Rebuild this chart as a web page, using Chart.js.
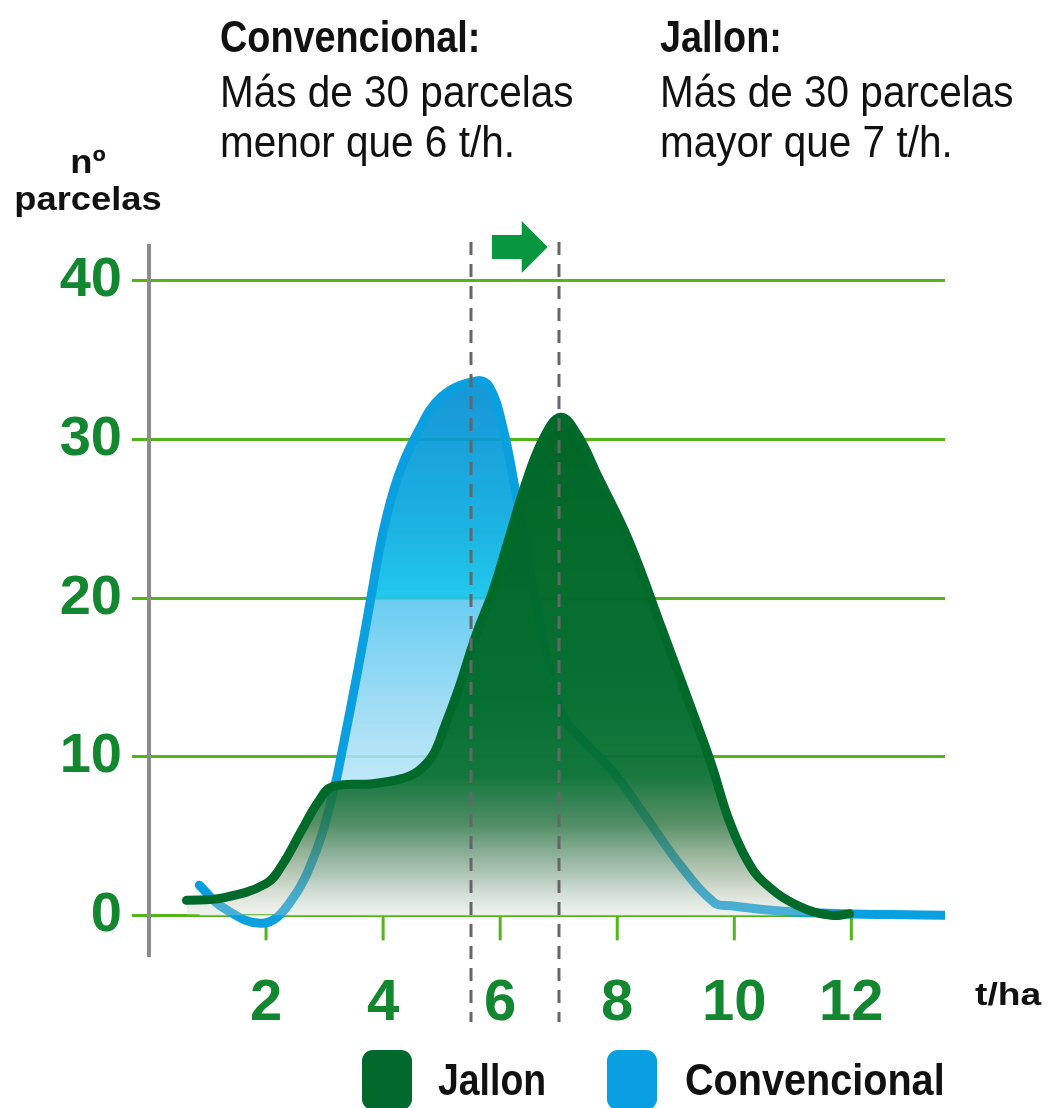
<!DOCTYPE html>
<html>
<head>
<meta charset="utf-8">
<script src="https://cdn.jsdelivr.net/npm/chart.js@4.4.1/dist/chart.umd.min.js"></script>
<style>
  html, body { margin: 0; padding: 0; background: #fff; }
  #wrap { position: relative; width: 1051px; height: 1108px; overflow: hidden; font-family: 'Liberation Sans', Arial, sans-serif; }
  #chart { position: absolute; left: 0; top: 0; }
  .t { position: absolute; white-space: nowrap; color: #111; transform-origin: left center; }
  .hd { font-size: 45px; line-height: 45px; transform: scaleX(0.9); }
  .hd.b { transform: scaleX(0.84); }
  .b { font-weight: bold; }
  .box { position: absolute; width: 50px; height: 60px; border-radius: 11px; }
</style>
</head>
<body>
<div id="wrap">
  <canvas id="chart" width="1051" height="1108"></canvas>

  <div class="t hd b" style="left:220px; top:14px;">Convencional:</div>
  <div class="t hd" style="left:220px; top:69px;">Más de 30 parcelas</div>
  <div class="t hd" style="left:220px; top:119px;">menor que 6 t/h.</div>

  <div class="t hd b" style="left:660px; top:14px;">Jallon:</div>
  <div class="t hd" style="left:660px; top:69px;">Más de 30 parcelas</div>
  <div class="t hd" style="left:660px; top:119px;">mayor que 7 t/h.</div>

  <div class="t b" style="left:0; width:176px; text-align:center; top:145px; font-size:33px; line-height:33px; transform:scaleX(1.1); transform-origin:center;">nº</div>
  <div class="t b" style="left:0; width:176px; text-align:center; top:182px; font-size:33px; line-height:33px; transform:scaleX(1.1); transform-origin:center;">parcelas</div>

  <div class="t b" style="left:975px; top:979px; font-size:31px; line-height:31px; transform:scaleX(1.2);">t/ha</div>

  <div class="box" style="left:362px; top:1050px; background:#00692b;"></div>
  <div class="t b" style="left:438px; top:1058px; font-size:44px; line-height:44px; transform:scaleX(0.85);">Jallon</div>
  <div class="box" style="left:607px; top:1050px; background:#0a9fe0;"></div>
  <div class="t b" style="left:685px; top:1058px; font-size:44px; line-height:44px; transform:scaleX(0.9);">Convencional</div>
</div>

<script>
  /* Data */
  var jallonX = [0.64, 1.26, 2.0, 2.28, 2.6, 2.9, 3.13, 3.82, 4.3, 4.6, 4.85, 5.05, 5.3, 5.58, 5.88, 6.16, 6.45, 6.73, 7.03, 7.32, 7.68, 8.2, 8.77, 9.33, 9.62, 9.9, 10.2, 10.5, 11.09, 11.66, 11.97];
  var jallonY = [0.95, 1.1, 2.0, 3.2, 5.3, 7.2, 8.1, 8.3, 8.6, 9.1, 10.1, 11.9, 14.4, 17.6, 20.5, 23.9, 27.4, 30.0, 31.4, 30.3, 27.6, 23.6, 18.0, 12.4, 9.4, 6.1, 3.6, 2.1, 0.6, 0.0, 0.1];

  var convX = [0.86, 1.26, 1.94, 2.4, 2.86, 3.17, 3.28, 3.57, 3.79, 4.0, 4.25, 4.57, 5.0, 5.6, 5.82, 6.05, 6.27, 6.6, 6.85, 7.03, 7.37, 7.94, 8.51, 9.09, 9.66, 9.94, 11.09, 13.6];
  var convY = [1.9, 0.5, -0.5, 0.76, 4.1, 8.1, 10.0, 15.5, 20.0, 24.2, 27.6, 30.3, 32.7, 33.7, 33.3, 30.7, 26.6, 20.0, 15.5, 12.8, 11.2, 9.0, 6.1, 3.1, 0.8, 0.6, 0.2, 0.0];

  var xTicks = [2, 4, 6, 8, 10, 12];
  var yTicks = [0, 10, 20, 30, 40];
  var limitLines = [5.5, 7];

  var GRID = '#52b51a';
  var LABEL = '#12872f';

  function points(xs, ys) {
    return xs.map(function (x, i) { return { x: x, y: ys[i] }; });
  }

  function jallonFill(context) {
    var chart = context.chart;
    if (!chart.chartArea) return 'rgba(0,104,40,0.9)';
    var y = chart.scales.y;
    var g = chart.ctx.createLinearGradient(0, y.getPixelForValue(31.5), 0, y.getPixelForValue(0));
    g.addColorStop(0, 'rgba(0,102,38,1)');
    g.addColorStop(0.55, 'rgba(0,108,44,0.97)');
    g.addColorStop(0.72, 'rgba(6,110,46,0.93)');
    g.addColorStop(0.82, 'rgba(50,118,66,0.8)');
    g.addColorStop(0.92, 'rgba(120,150,115,0.5)');
    g.addColorStop(1, 'rgba(210,215,205,0.3)');
    return g;
  }

  function convFill(context) {
    var chart = context.chart;
    if (!chart.chartArea) return 'rgba(10,160,224,0.8)';
    var y = chart.scales.y;
    var g = chart.ctx.createLinearGradient(0, y.getPixelForValue(34), 0, y.getPixelForValue(0));
    g.addColorStop(0, 'rgba(10,143,212,0.95)');
    g.addColorStop(0.28, 'rgba(9,172,223,0.92)');
    g.addColorStop(0.41, 'rgba(10,194,234,0.9)');
    g.addColorStop(0.415, 'rgba(85,198,239,0.88)');
    g.addColorStop(0.6, 'rgba(143,215,243,0.88)');
    g.addColorStop(0.8, 'rgba(197,233,248,0.9)');
    g.addColorStop(1, 'rgba(255,255,255,0.9)');
    return g;
  }

  /* Extra drawing: tick marks, limit lines, arrow */
  var decor = {
    id: 'decor',
    beforeDatasetsDraw: function (chart) {
      var ctx = chart.ctx, xs = chart.scales.x, ys = chart.scales.y;
      var y0 = ys.getPixelForValue(0);
      ctx.save();
      ctx.strokeStyle = GRID;
      ctx.lineWidth = 3;
      xTicks.forEach(function (v) {
        var px = xs.getPixelForValue(v);
        ctx.beginPath();
        ctx.moveTo(px, y0);
        ctx.lineTo(px, y0 + 25);
        ctx.stroke();
      });
      ctx.restore();
    },
    afterDatasetsDraw: function (chart) {
      var ctx = chart.ctx, xs = chart.scales.x;
      ctx.save();
      ctx.strokeStyle = '#666';
      ctx.lineWidth = 3;
      ctx.setLineDash([13, 9]);
      limitLines.forEach(function (v) {
        var px = Math.round(xs.getPixelForValue(v));
        ctx.beginPath();
        ctx.moveTo(px, 242);
        ctx.lineTo(px, 1022);
        ctx.stroke();
      });
      ctx.setLineDash([]);

      // arrow between the two limits
      var a = xs.getPixelForValue(limitLines[0]), b = xs.getPixelForValue(limitLines[1]);
      var x1 = a + 21, x2 = b - 11, xm = x2 - 26, cy = 247;
      ctx.fillStyle = '#08963f';
      ctx.beginPath();
      ctx.moveTo(x1, cy - 12);
      ctx.lineTo(xm, cy - 12);
      ctx.lineTo(xm, cy - 26);
      ctx.lineTo(x2, cy);
      ctx.lineTo(xm, cy + 26);
      ctx.lineTo(xm, cy + 12);
      ctx.lineTo(x1, cy + 12);
      ctx.closePath();
      ctx.fill();
      ctx.restore();
    }
  };

  new Chart(document.getElementById('chart').getContext('2d'), {
    type: 'line',
    data: {
      datasets: [{
        label: 'Jallon',
        data: points(jallonX, jallonY),
        borderColor: '#006a2a',
        borderWidth: 9,
        borderCapStyle: 'round',
        backgroundColor: jallonFill,
        fill: 'origin',
        tension: 0.4,
        pointRadius: 0,
        order: 0
      }, {
        label: 'Convencional',
        data: points(convX, convY),
        borderColor: '#0aa0e0',
        borderWidth: 9,
        borderCapStyle: 'round',
        backgroundColor: convFill,
        fill: 'origin',
        tension: 0.4,
        pointRadius: 0,
        order: 1
      }]
    },
    options: {
      responsive: false,
      animation: false,
      layout: { padding: { top: 246, right: 106, left: 0, bottom: 0 } },
      plugins: {
        legend: { display: false },
        tooltip: { enabled: false }
      },
      scales: {
        x: {
          type: 'linear',
          min: 0,
          max: 13.6,
          afterBuildTicks: function (s) { s.ticks = xTicks.map(function (v) { return { value: v }; }); },
          afterFit: function (s) { s.height = 153; },
          grid: { display: false },
          border: { display: false },
          ticks: {
            color: LABEL,
            padding: 6,
            maxRotation: 0,
            font: { family: "'Liberation Sans', Arial, sans-serif", size: 58, weight: 'bold' }
          }
        },
        y: {
          min: -2.5,
          max: 42.2,
          afterBuildTicks: function (s) { s.ticks = yTicks.map(function (v) { return { value: v }; }); },
          afterFit: function (s) { s.width = 149; },
          grid: { color: GRID, lineWidth: 3, tickLength: 17, tickColor: GRID },
          border: { color: '#8c8c8c', width: 4 },
          ticks: {
            color: LABEL,
            padding: 10,
            font: { family: "'Liberation Sans', Arial, sans-serif", size: 56, weight: 'bold' }
          }
        }
      }
    },
    plugins: [decor]
  });
</script>
</body>
</html>
